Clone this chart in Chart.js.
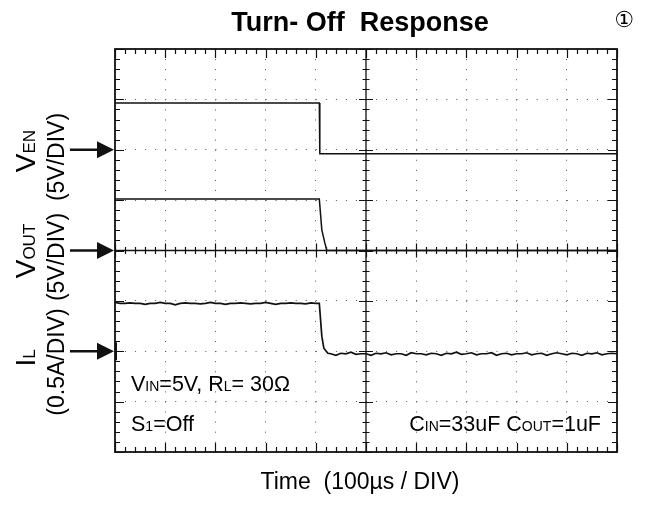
<!DOCTYPE html>
<html>
<head>
<meta charset="utf-8">
<script src="https://cdn.jsdelivr.net/npm/chart.js@4.4.0/dist/chart.umd.min.js"></script>
<style>
  html, body { margin: 0; padding: 0; background: #fff; }
  #wrap { width: 652px; height: 506px; }
</style>
</head>
<body>
<div id="wrap"><canvas id="scope" width="652" height="506"></canvas></div>
<script>
// time in microseconds (100us / DIV), level in screen divisions (0 = bottom, 8 = top)
var timeMin = 0, timeMax = 1000;
var divMin = 0, divMax = 8;
var markerLevels = [6, 4, 2]; // ground arrows for VEN, VOUT, IL

var venTime = [0, 407, 408, 1000];
var venLevel = [6.93, 6.93, 5.92, 5.92];

var voutTime = [0, 407, 412, 418, 422, 1000];
var voutLevel = [5.02, 5.02, 4.41, 4.15, 4.0, 4.0];

// IL trace is noisy, read every 10us
var ilStep = 10;
var ilHighStart = 0;
var ilHigh = [2.97, 2.95, 2.95, 2.96, 2.95, 2.95, 2.93, 2.95, 2.95, 2.97,
              2.95, 2.95, 2.92, 2.95, 2.96, 2.95, 2.95, 2.94, 2.95, 2.97,
              2.95, 2.95, 2.93, 2.95, 2.95, 2.96, 2.95, 2.94, 2.95, 2.95,
              2.97, 2.95, 2.93, 2.95, 2.95, 2.96, 2.95, 2.95, 2.94, 2.96, 2.95];
var ilEdgeTime = [407, 412, 416, 424];
var ilEdge = [2.95, 2.30, 2.06, 1.96];
var ilLowStart = 430;
var ilLow = [1.95, 1.92, 1.96, 1.95, 1.98, 1.94, 1.95, 1.95, 1.92, 1.96,
             1.95, 1.97, 1.93, 1.95, 1.95, 1.92, 1.97, 1.95, 1.95, 1.93,
             1.96, 1.95, 1.92, 1.96, 1.95, 1.98, 1.94, 1.95, 1.97, 1.93,
             1.95, 1.95, 1.97, 1.92, 1.95, 1.96, 1.93, 1.95, 1.95, 1.97,
             1.93, 1.95, 1.96, 1.92, 1.95, 1.97, 1.95, 1.93, 1.96, 1.95,
             1.92, 1.96, 1.95, 1.97, 1.93, 1.95, 1.96, 1.95];

function pairs(times, values) {
  var out = [];
  for (var i = 0; i < values.length; i++) out.push({ x: times[i], y: values[i] });
  return out;
}
function sampled(start, step, values) {
  var out = [];
  for (var i = 0; i < values.length; i++) out.push({ x: start + i * step, y: values[i] });
  return out;
}

var ilPoints = sampled(ilHighStart, ilStep, ilHigh)
  .concat(pairs(ilEdgeTime, ilEdge))
  .concat(sampled(ilLowStart, ilStep, ilLow));

var FONT = '"Liberation Sans", Arial, sans-serif';

function drawRich(ctx, parts, x, y, align) {
  var total = 0;
  parts.forEach(function (p) {
    ctx.font = (p[2] ? 'bold ' : '') + p[1] + 'px ' + FONT;
    p.w = ctx.measureText(p[0]).width;
    total += p.w;
  });
  var cx = align == 'center' ? x - total / 2 : (align == 'right' ? x - total : x);
  parts.forEach(function (p) {
    ctx.font = (p[2] ? 'bold ' : '') + p[1] + 'px ' + FONT;
    ctx.fillText(p[0], cx, y);
    cx += p.w;
  });
}

function drawUp(ctx, parts, baseX, centerY) {
  ctx.save();
  ctx.translate(baseX, centerY);
  ctx.rotate(-Math.PI / 2);
  drawRich(ctx, parts, 0, 0, 'center');
  ctx.restore();
}

var scopePlugin = {
  id: 'scopeFrame',
  afterDatasetsDraw: function (chart) {
    var ctx = chart.ctx;
    var xs = chart.scales.x, ys = chart.scales.y;
    var a = chart.chartArea;
    ctx.save();
    ctx.strokeStyle = '#111';
    ctx.fillStyle = '#111';

    // centre cross with ticks
    var cx = xs.getPixelForValue(500), cy = ys.getPixelForValue(4);
    ctx.lineWidth = 1.3;
    ctx.beginPath();
    ctx.moveTo(cx, a.top); ctx.lineTo(cx, a.bottom);
    ctx.moveTo(a.left, cy); ctx.lineTo(a.right, cy);
    ctx.stroke();
    ctx.lineWidth = 1.2;
    ctx.beginPath();
    for (var t = 0; t <= 1000; t += 20) {
      var px = Math.round(xs.getPixelForValue(t)) + 0.5;
      var h = (t % 100 == 0) ? 7 : 3.5;
      ctx.moveTo(px, cy - h); ctx.lineTo(px, cy + h);
      // top / bottom edge ticks
      var e = (t % 100 == 0) ? 9 : 5;
      ctx.moveTo(px, a.top); ctx.lineTo(px, a.top + e);
      ctx.moveTo(px, a.bottom); ctx.lineTo(px, a.bottom - e);
    }
    for (var d = 0; d <= 40; d++) {
      var py = Math.round(ys.getPixelForValue(d / 5)) + 0.5;
      var hh = (d % 5 == 0) ? 7 : 3.5;
      ctx.moveTo(cx - hh, py); ctx.lineTo(cx + hh, py);
      var ee = (d % 5 == 0) ? 9 : 5;
      ctx.moveTo(a.left, py); ctx.lineTo(a.left + ee, py);
      ctx.moveTo(a.right, py); ctx.lineTo(a.right - ee, py);
    }
    ctx.stroke();

    // outer frame
    ctx.lineWidth = 1.8;
    ctx.strokeRect(a.left, a.top, a.right - a.left, a.bottom - a.top);

    // channel ground arrows
    markerLevels.forEach(function (lv, i) {
      var y = ys.getPixelForValue(lv);
      ctx.lineWidth = 2.5;
      ctx.beginPath();
      ctx.moveTo(70, y); ctx.lineTo(100, y);
      ctx.stroke();
      ctx.beginPath();
      ctx.moveTo(a.left - 1, y);
      ctx.lineTo(97, y - 8.5);
      ctx.lineTo(97, y + 8.5);
      ctx.closePath();
      ctx.fill();
      if (i == 2) {
        ctx.lineWidth = 2;
        ctx.beginPath();
        ctx.moveTo(a.left + 1, y - 9); ctx.lineTo(a.left + 1, y + 9);
        ctx.stroke();
      }
    });

    // texts
    ctx.fillStyle = '#000';
    ctx.textBaseline = 'alphabetic';
    drawRich(ctx, [['Turn- Off  Response', 27, true]], 360, 31, 'center');
    ctx.font = '22px "DejaVu Sans", "Noto Sans CJK JP", sans-serif';
    ctx.textAlign = 'center';
    ctx.fillText('\u2460', 624, 27);
    ctx.textAlign = 'left';

    drawUp(ctx, [['V', 28], ['EN', 17]], 35, 151);
    drawUp(ctx, [['(5V/DIV)', 23]], 64, 157);
    drawUp(ctx, [['V', 28], ['OUT', 17]], 35, 251);
    drawUp(ctx, [['(5V/DIV)', 23]], 64, 257);
    drawUp(ctx, [['I', 28], ['L', 17]], 35, 358);
    drawUp(ctx, [['(0.5A/DIV)', 23]], 64, 362);

    drawRich(ctx, [['V', 21.5], ['IN', 14], ['=5V, R', 21.5], ['L', 14], ['= 30\u03A9', 21.5]], 131, 391, 'left');
    drawRich(ctx, [['S', 21.5], ['1', 14], ['=Off', 21.5]], 131, 431, 'left');
    drawRich(ctx, [['C', 21.5], ['IN', 14], ['=33uF C', 21.5], ['OUT', 14], ['=1uF', 21.5]], 601, 431, 'right');

    drawRich(ctx, [['Time  (100\u00B5s / DIV)', 23]], 360, 489, 'center');
    ctx.restore();
  }
};

var traceStyle = { borderColor: '#111', borderWidth: 1.5, pointRadius: 0, fill: false, tension: 0 };

new Chart(document.getElementById('scope'), {
  type: 'line',
  data: {
    datasets: [
      Object.assign({ label: 'VEN', data: pairs(venTime, venLevel) }, traceStyle),
      Object.assign({ label: 'VOUT', data: pairs(voutTime, voutLevel) }, traceStyle),
      Object.assign({ label: 'IL', data: ilPoints }, traceStyle, { borderWidth: 1.7 })
    ]
  },
  options: {
    responsive: false,
    animation: false,
    devicePixelRatio: 1,
    layout: { padding: { left: 115, right: 35, top: 49, bottom: 54 } },
    plugins: { legend: { display: false }, tooltip: { enabled: false }, title: { display: false } },
    scales: {
      x: {
        type: 'linear', min: timeMin, max: timeMax,
        ticks: { display: false, stepSize: 100 },
        grid: { color: '#555', lineWidth: 1, drawTicks: false },
        border: { display: false, dash: [1, 9.07] }
      },
      y: {
        type: 'linear', min: divMin, max: divMax,
        ticks: { display: false, stepSize: 1 },
        grid: { color: '#555', lineWidth: 1, drawTicks: false },
        border: { display: false, dash: [1, 9.04] }
      }
    }
  },
  plugins: [scopePlugin]
});
</script>
</body>
</html>
